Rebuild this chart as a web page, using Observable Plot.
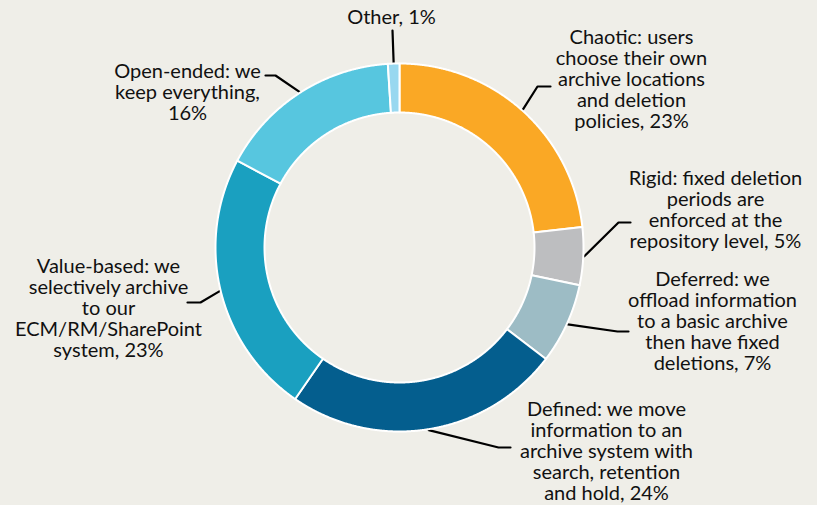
<!DOCTYPE html>
<html><head><meta charset="utf-8">
<script src="https://cdn.jsdelivr.net/npm/d3@7"></script>
<script src="https://cdn.jsdelivr.net/npm/@observablehq/plot@0.6"></script>
<style>html,body{margin:0;padding:0;background:#efeee8;}</style>
</head><body><div id="chart"></div>
<script>
// ---- data ----
const categories = ["Chaotic","Rigid","Deferred","Defined","Value-based","Open-ended","Other"];
const values = [23, 5, 7, 24, 23, 16, 1];
const labels = [
  "Chaotic: users\nchoose their own\narchive locations\nand deletion\npolicies, 23%",
  "Rigid: fixed deletion\nperiods are\nenforced at the\nrepository level, 5%",
  "Deferred: we\noffload information\nto a basic archive\nthen have fixed\ndeletions, 7%",
  "Defined: we move\ninformation to an\narchive system with\nsearch, retention\nand hold, 24%",
  "Value-based: we\nselectively archive\nto our\nECM/RM/SharePoint\nsystem, 23%",
  "Open-ended: we\nkeep everything,\n16%",
  "Other, 1%"
];
const colors = ["#faa825","#bdbec0","#9dbcc5","#045e8e","#1aa0c0","#57c6df","#98d8f0"];

// ---- layout (pixels) ----
const W = 817, H = 505, cx = 399, cy = 247, rOuter = 184, rInner = 135;
const labelPos = [[631,79],[715,209],[712,321],[606,451],[108,308],[187,92],[391,17]];
const leaderBends = [
  [[537,86],[550,86]],
  [[618,222],[630,222]],
  [[617,331],[628,331]],
  [[498,447],[510,447]],
  [[200,302],[187,302]],
  [[275,75],[265,75]],
  [[392,30]]
];

const arcs = d3.pie().sort(null).value(d => d)(values);
const pt = (a, r) => ({x: cx + r * Math.sin(a), y: cy - r * Math.cos(a)});

const slicePts = [];
arcs.forEach((a, i) => {
  const key = categories[i];
  const n = Math.max(2, Math.ceil((a.endAngle - a.startAngle) / 0.004));
  const ring = [];
  for (let k = 0; k <= n; k++) ring.push(pt(a.startAngle + (a.endAngle - a.startAngle) * k / n, rOuter));
  for (let k = n; k >= 0; k--) ring.push(pt(a.startAngle + (a.endAngle - a.startAngle) * k / n, rInner));
  ring.push(ring[0]);
  ring.forEach(p => slicePts.push({...p, key}));
});

const leaderPts = [];
arcs.forEach((a, i) => {
  const key = categories[i];
  const mid = (a.startAngle + a.endAngle) / 2;
  leaderPts.push({...pt(mid, rOuter + 1), key});
  leaderBends[i].forEach(([x, y]) => leaderPts.push({x, y, key}));
});

const labelData = labels.map((t, i) => ({text: t, x: labelPos[i][0], y: labelPos[i][1]}));

const chart = Plot.plot({
  width: W, height: H, margin: 0,
  x: {domain: [0, W], range: [0, W], axis: null},
  y: {domain: [0, H], range: [0, H], axis: null},
  color: {domain: categories, range: colors},
  style: {background: "#efeee8", fontFamily: "Lato, sans-serif"},
  marks: [
    Plot.line(leaderPts, {x: "x", y: "y", z: "key", stroke: "#000", strokeWidth: 2.2, curve: "linear"}),
    Plot.line(slicePts, {x: "x", y: "y", z: "key", fill: "key", stroke: "#ffffff", strokeWidth: 2, strokeLinejoin: "round", curve: "linear"}),
    Plot.text(labelData, {x: "x", y: "y", text: "text", fontSize: 20, lineHeight: 1.05, textAnchor: "middle", fill: "#111111", fontFamily: "Lato"})
  ]
});
document.getElementById("chart").appendChild(chart);
</script>
</body></html>
